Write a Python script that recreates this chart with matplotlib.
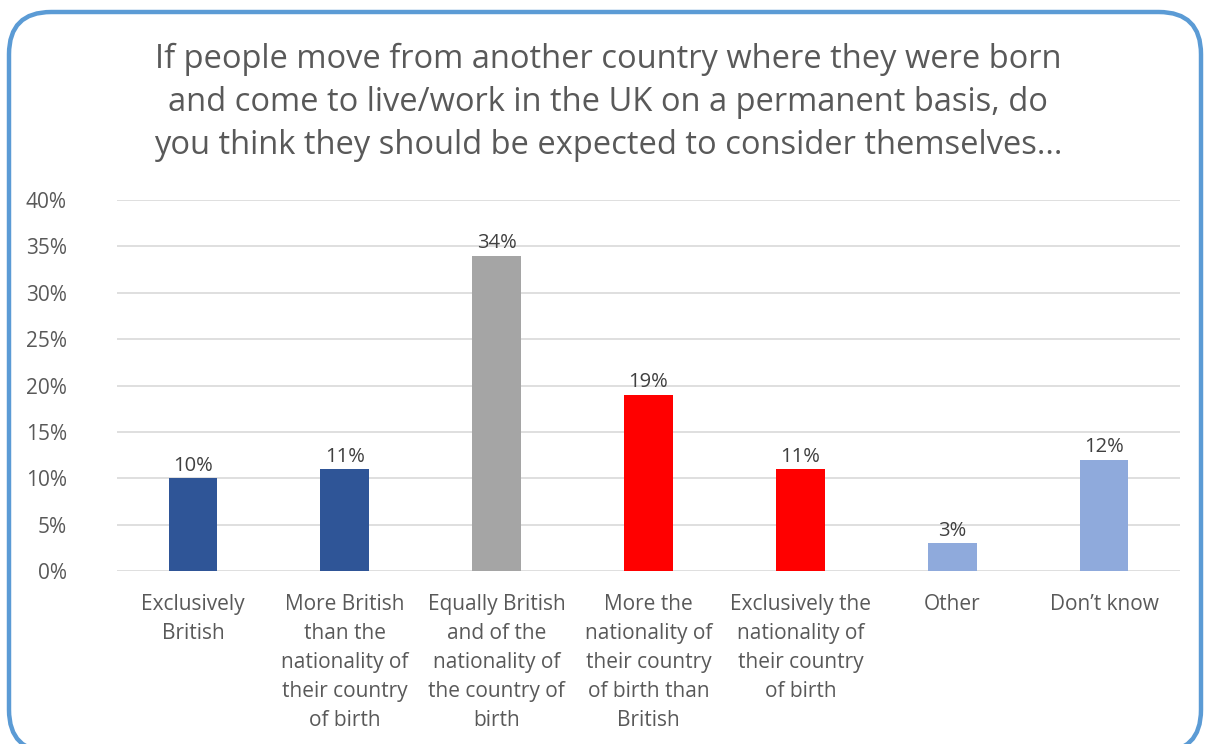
import matplotlib
matplotlib.use("Agg")
import matplotlib.pyplot as plt
from matplotlib.patches import FancyBboxPatch
from matplotlib.ticker import FuncFormatter

categories = [
    "Exclusively\nBritish",
    "More British\nthan the\nnationality of\ntheir country\nof birth",
    "Equally British\nand of the\nnationality of\nthe country of\nbirth",
    "More the\nnationality of\ntheir country\nof birth than\nBritish",
    "Exclusively the\nnationality of\ntheir country\nof birth",
    "Other",
    "Don\u2019t know",
]
values = [10, 11, 34, 19, 11, 3, 12]
colors = ["#2F5597", "#2F5597", "#A5A5A5", "#FF0000", "#FF0000", "#8FAADC", "#8FAADC"]
yticks = [0, 5, 10, 15, 20, 25, 30, 35, 40]
title = ("If people move from another country where they were born\n"
         "and come to live/work in the UK on a permanent basis, do\n"
         "you think they should be expected to consider themselves...")

plt.rcParams['font.family'] = ['Open Sans', 'DejaVu Sans']
W, H = 1205, 744
fig = plt.figure(figsize=(W / 100, H / 100), dpi=100)

# rounded border
box = FancyBboxPatch((9 / W, 1 - 752 / H), (1201 - 9) / W, (752 - 12) / H,
                     boxstyle="round,pad=0,rounding_size=0.035",
                     transform=fig.transFigure, facecolor="none",
                     edgecolor="#5B9BD5", linewidth=3.2, zorder=5,
                     mutation_aspect=W / H, clip_on=False)
fig.patches.append(box)

ax = fig.add_axes([117 / W, 1 - 571 / H, (1180 - 117) / W, (571 - 200) / H])
ax.set_facecolor("none")
x = list(range(len(categories)))
bars = ax.bar(x, values, width=0.32, color=colors, zorder=3)
for xi, v in zip(x, values):
    ax.text(xi, v + 0.25, f"{v}%", ha="center", va="bottom", fontsize=14.5, color="#404040")

ax.set_ylim(0, 40)
ax.set_xlim(-0.5, len(categories) - 0.5)
ax.set_yticks(yticks)
ax.yaxis.set_major_formatter(FuncFormatter(lambda v, p: f"{int(v)}%"))
ax.grid(axis="y", color="#D9D9D9", linewidth=1.2, zorder=0)
for s in ax.spines.values():
    s.set_visible(False)
ax.tick_params(axis="both", length=0, labelsize=15, labelcolor="#595959")
ax.tick_params(axis="y", pad=36)
ax.set_xticks(x)
ax.set_xticklabels(categories, linespacing=1.5)
ax.tick_params(axis="x", pad=16.5)

fig.text(608 / W, 1 - 102.5 / H, title, ha="center", va="center", fontsize=23.5,
         color="#595959", linespacing=1.4)

fig.savefig("out.png", dpi=100)
